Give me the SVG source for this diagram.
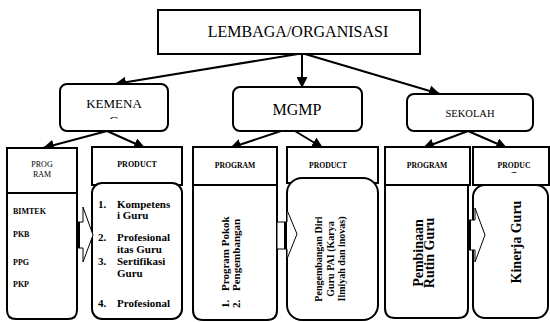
<svg xmlns="http://www.w3.org/2000/svg" width="550" height="322" viewBox="0 0 550 322">
<style>
.box{fill:#fff;stroke:#000;stroke-width:2}
.edge{stroke:#000;stroke-width:2;fill:none}
.blk{fill:#fff;stroke:#000;stroke-width:1}
text{font-family:"Liberation Serif","Times New Roman",serif;fill:#000}
.b{font-weight:bold}
</style>
<defs>
<marker id="ah" viewBox="0 0 10 10" refX="10" refY="5" markerWidth="11" markerHeight="11" markerUnits="userSpaceOnUse" orient="auto">
<path d="M0,0 L10,5 L0,10 z" fill="#000"/>
</marker>
<clipPath id="c1"><rect x="60" y="84" width="108" height="35"/></clipPath>
<clipPath id="c2"><rect x="473" y="147" width="77" height="26"/></clipPath>
</defs>
<rect width="550" height="322" fill="#fff"/>

<g id="connectors">
<line class="edge" x1="298" y1="54" x2="115" y2="84" marker-end="url(#ah)"/>
<line class="edge" x1="302" y1="54" x2="302" y2="88" marker-end="url(#ah)"/>
<line class="edge" x1="305" y1="54" x2="440" y2="94" marker-end="url(#ah)"/>
<line class="edge" x1="107" y1="131" x2="43" y2="148" marker-end="url(#ah)"/>
<line class="edge" x1="107" y1="131" x2="145" y2="148" marker-end="url(#ah)"/>
<line class="edge" x1="290" y1="128" x2="230" y2="148" marker-end="url(#ah)"/>
<line class="edge" x1="290" y1="128" x2="323" y2="148" marker-end="url(#ah)"/>
<line class="edge" x1="468" y1="131" x2="423" y2="148" marker-end="url(#ah)"/>
<line class="edge" x1="468" y1="131" x2="507" y2="148" marker-end="url(#ah)"/>
</g>

<g id="lembaga">
<rect class="box" x="158" y="10" width="262" height="44"/>
<text x="298" y="37" font-size="16" text-anchor="middle">LEMBAGA/ORGANISASI</text>
</g>

<g id="kemenag">
<rect class="box" x="60" y="84" width="108" height="47" rx="7"/>
<text x="114" y="108" font-size="13" text-anchor="middle">KEMENA</text>
<text x="114" y="125" font-size="13" text-anchor="middle" clip-path="url(#c1)">G</text>
</g>

<g id="mgmp">
<rect class="box" x="233" y="87" width="129" height="44" rx="7"/>
<text x="297" y="115" font-size="16" text-anchor="middle">MGMP</text>
</g>

<g id="sekolah">
<rect class="box" x="407" y="94" width="126" height="37" rx="7"/>
<text x="470" y="117" font-size="10.5" text-anchor="middle">SEKOLAH</text>
</g>

<g id="kemenag-program">
<rect class="box" x="7" y="148" width="70" height="45"/>
<path class="box" d="M7,193 H77 V310 Q77,319 68,319 H16 Q7,319 7,310 Z"/>
<text x="42" y="167" font-size="8" text-anchor="middle">PROG</text>
<text x="42" y="177" font-size="8" text-anchor="middle">RAM</text>
<text class="b" x="13" y="214" font-size="8">BIMTEK</text>
<text class="b" x="13" y="237" font-size="8">PKB</text>
<text class="b" x="13" y="265" font-size="8">PPG</text>
<text class="b" x="13" y="287" font-size="8">PKP</text>
</g>

<g id="kemenag-product">
<rect class="box" x="92" y="147" width="90" height="38"/>
<rect class="box" x="92" y="183" width="90" height="136" rx="10"/>
<text class="b" x="137" y="167" font-size="8" text-anchor="middle">PRODUCT</text>
<g class="b" font-size="11">
<text x="98" y="208">1.</text><text x="117" y="208">Kompetens</text>
<text x="117" y="219">i Guru</text>
<text x="98" y="241">2.</text><text x="117" y="241">Profesional</text>
<text x="117" y="253">itas Guru</text>
<text x="98" y="265">3.</text><text x="117" y="265">Sertifikasi</text>
<text x="117" y="277">Guru</text>
<text x="98" y="307">4.</text><text x="117" y="307">Profesional</text>
</g>
</g>

<g id="mgmp-program">
<rect class="box" x="193" y="147" width="84" height="38"/>
<path class="box" d="M193,185 H277 V310 Q277,320 267,320 H203 Q193,320 193,310 Z"/>
<text class="b" x="235" y="168" font-size="7.7" text-anchor="middle">PROGRAM</text>
<g class="b" font-size="11">
<text transform="translate(229,308) rotate(-90)">1.</text>
<text transform="translate(229,291) rotate(-90)">Program Pokok</text>
<text transform="translate(240,308) rotate(-90)">2.</text>
<text transform="translate(240,291) rotate(-90)">Pengembangan</text>
</g>
</g>

<g id="mgmp-product">
<rect class="box" x="287" y="147" width="91" height="36"/>
<rect class="box" x="287" y="178" width="91" height="142" rx="15"/>
<text class="b" x="328" y="168" font-size="7.7" text-anchor="middle">PRODUCT</text>
<g class="b" font-size="10" text-anchor="middle">
<text transform="translate(322,259) rotate(-90)">Pengembangan Diri</text>
<text transform="translate(334,259) rotate(-90)">Guru PAI (Karya</text>
<text transform="translate(345,259) rotate(-90)">Ilmiyah dan inovas)</text>
</g>
</g>

<g id="sekolah-program">
<rect class="box" x="385" y="147" width="85" height="38"/>
<path class="box" d="M385,185 H468 V308 Q468,318 458,318 H395 Q385,318 385,308 Z"/>
<text class="b" x="427" y="168" font-size="7.7" text-anchor="middle">PROGRAM</text>
<g class="b" font-size="14" text-anchor="middle">
<text transform="translate(423,253) rotate(-90)">Pembinaan</text>
<text transform="translate(434,253) rotate(-90)">Rutin Guru</text>
</g>
</g>

<g id="sekolah-product">
<rect class="box" x="473" y="147" width="76" height="38"/>
<rect class="box" x="473" y="185" width="75" height="133" rx="12"/>
<text class="b" x="514" y="168" font-size="7.7" text-anchor="middle">PRODUC</text>
<text class="b" x="514" y="178" font-size="7.7" text-anchor="middle" clip-path="url(#c2)">T</text>
<text class="b" transform="translate(521,242) rotate(-90)" font-size="14" text-anchor="middle">Kinerja Guru</text>
</g>

<g id="block-arrows">
<path class="blk" d="M77,222 H83 V207 L93,235 L83,262 V248 H77 Z"/>
<line x1="78.5" y1="222" x2="78.5" y2="248" stroke="#000" stroke-width="3"/>
<path class="blk" d="M277,222 H287 V210 L297,234 L287,259 V249 H277 Z"/>
<line x1="285.5" y1="222" x2="285.5" y2="249" stroke="#000" stroke-width="3"/>
<path class="blk" d="M468,220 H475 V208 L485,235 L475,262 V250 H468 Z"/>
<line x1="469.5" y1="220" x2="469.5" y2="250" stroke="#000" stroke-width="3"/>
</g>
</svg>
